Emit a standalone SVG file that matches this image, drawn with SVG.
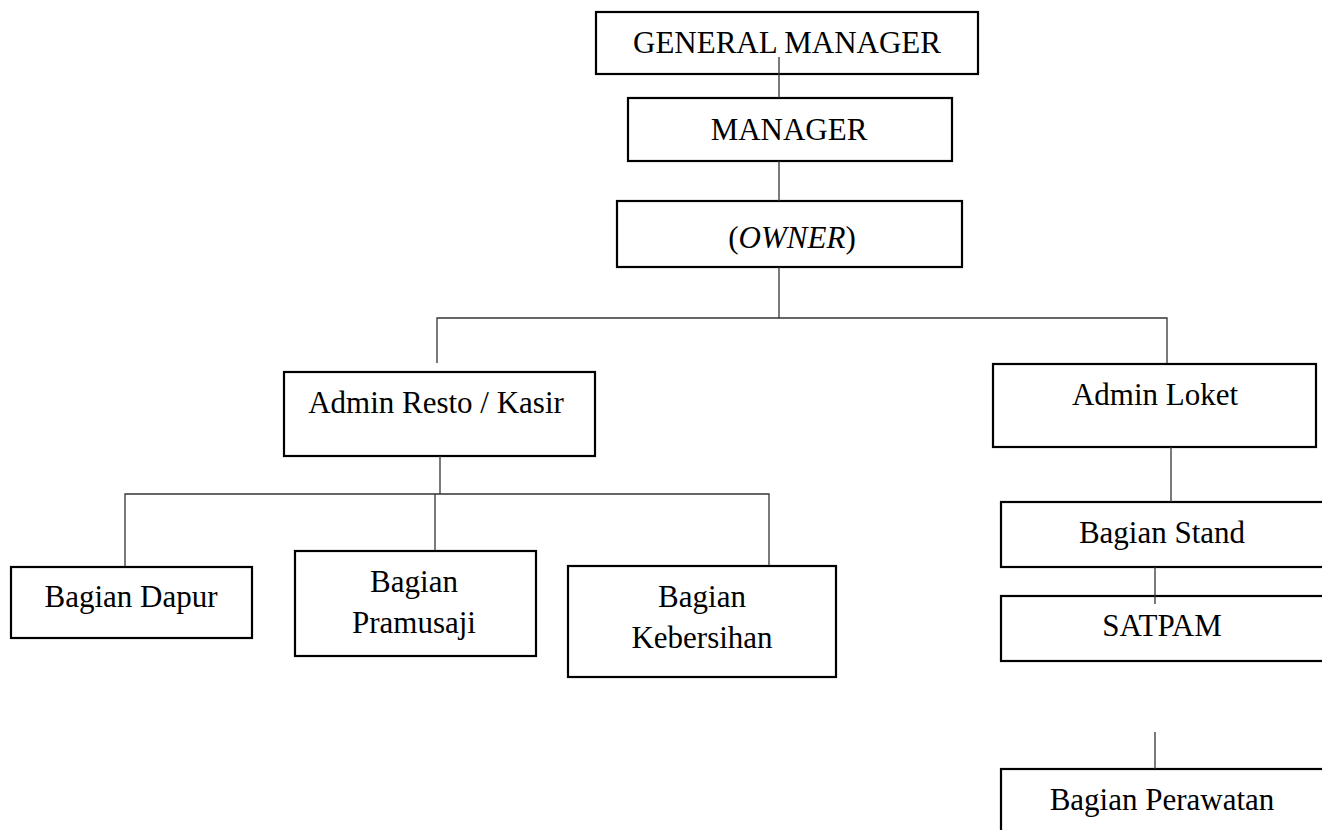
<svg xmlns="http://www.w3.org/2000/svg" width="1322" height="830" viewBox="0 0 1322 830">
<style>
.box{fill:#fff;stroke:#000;stroke-width:2.2}
.t{font-family:"Liberation Serif","Times New Roman",serif;font-size:31px;fill:#000;text-anchor:middle}
.ln{stroke:#333;stroke-width:1.3;fill:none}
</style>
<rect width="1322" height="830" fill="#fff"/>
<g id="gm"><rect class="box" x="596" y="12" width="382" height="62"/><text class="t" x="787" y="53">GENERAL MANAGER</text></g>
<g id="manager"><rect class="box" x="628" y="98" width="324" height="63"/><text class="t" x="789" y="140">MANAGER</text></g>
<g id="owner"><rect class="box" x="617" y="201" width="345" height="66"/><text class="t" x="792" y="248">(<tspan font-style="italic">OWNER</tspan>)</text></g>
<g id="admin-resto"><rect class="box" x="284" y="372" width="311" height="84"/><text class="t" x="436" y="413">Admin Resto / Kasir</text></g>
<g id="admin-loket"><rect class="box" x="993" y="364" width="323" height="83"/><text class="t" x="1155" y="405">Admin Loket</text></g>
<g id="dapur"><rect class="box" x="11" y="567" width="241" height="71"/><text class="t" x="131" y="607">Bagian Dapur</text></g>
<g id="pramusaji"><rect class="box" x="295" y="551" width="241" height="105"/><text class="t" x="414" y="592">Bagian</text><text class="t" x="414" y="633">Pramusaji</text></g>
<g id="kebersihan"><rect class="box" x="568" y="566" width="268" height="111"/><text class="t" x="702" y="607">Bagian</text><text class="t" x="702" y="648">Kebersihan</text></g>
<g id="stand"><rect class="box" x="1001" y="502" width="340" height="65"/><text class="t" x="1162" y="543">Bagian Stand</text></g>
<g id="satpam"><rect class="box" x="1001" y="596" width="340" height="65"/><text class="t" x="1162" y="636">SATPAM</text></g>
<g id="perawatan"><rect class="box" x="1001" y="769" width="340" height="80"/><text class="t" x="1162" y="810">Bagian Perawatan</text></g>
<g id="connectors">
<path class="ln" d="M779 57V98"/>
<path class="ln" d="M779 161V201"/>
<path class="ln" d="M779 267V318"/>
<path class="ln" d="M437 363V318H1167V363"/>
<path class="ln" d="M440 456V494"/>
<path class="ln" d="M125 566V494H769V565"/>
<path class="ln" d="M435 494V550"/>
<path class="ln" d="M1171 447V502"/>
<path class="ln" d="M1155 567V604"/>
<path class="ln" d="M1155 732V769"/>
</g>
</svg>
